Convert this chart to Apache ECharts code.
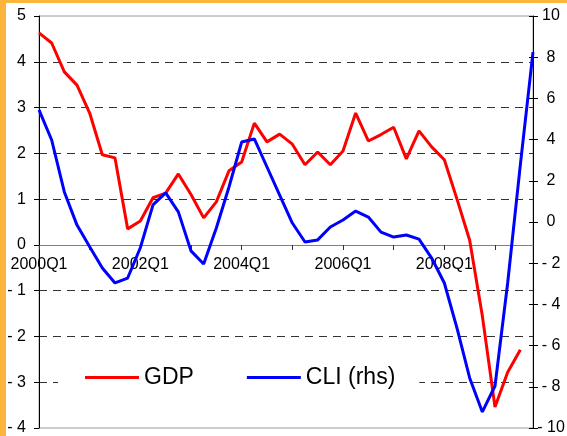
<!DOCTYPE html>
<html>
<head>
<meta charset="utf-8">
<script src="https://cdn.jsdelivr.net/npm/echarts@6/dist/echarts.min.js"></script>
<style>
  html, body { margin: 0; padding: 0; background: #fff; }
  #chart { width: 567px; height: 436px; }
</style>
</head>
<body>
<div id="chart"></div>
<script>
var categories = [
  '2000Q1','2000Q2','2000Q3','2000Q4',
  '2001Q1','2001Q2','2001Q3','2001Q4',
  '2002Q1','2002Q2','2002Q3','2002Q4',
  '2003Q1','2003Q2','2003Q3','2003Q4',
  '2004Q1','2004Q2','2004Q3','2004Q4',
  '2005Q1','2005Q2','2005Q3','2005Q4',
  '2006Q1','2006Q2','2006Q3','2006Q4',
  '2007Q1','2007Q2','2007Q3','2007Q4',
  '2008Q1','2008Q2','2008Q3','2008Q4',
  '2009Q1','2009Q2','2009Q3','2009Q4'
];
var gdp = [
  4.63, 4.41, 3.78, 3.49, 2.88, 1.97, 1.90, 0.35,
  0.52, 1.03, 1.13, 1.55, 1.10, 0.59, 0.94, 1.62,
  1.81, 2.66, 2.25, 2.42, 2.20, 1.75, 2.03, 1.75,
  2.05, 2.88, 2.27, 2.41, 2.57, 1.88, 2.49, 2.14,
  1.86, 1.00, 0.10, -1.55, -3.54, -2.78, -2.29, null
];
var cli = [
  5.44, 3.98, 1.46, -0.15, -1.20, -2.23, -2.96, -2.72,
  -1.25, 0.83, 1.41, 0.49, -1.40, -2.04, -0.29, 1.70,
  3.88, 4.03, 2.67, 1.31, -0.05, -0.97, -0.87, -0.24,
  0.10, 0.53, 0.24, -0.49, -0.73, -0.63, -0.83, -1.75,
  -2.96, -5.15, -7.57, -9.22, -7.96, -2.96, 2.77, 8.25
];
var seriesNames = ['GDP', 'CLI (rhs)'];

function fmt(v) { return v < 0 ? '- ' + Math.abs(v) : String(v); }

var chart = echarts.init(document.getElementById('chart'), null, { renderer: 'canvas' });
var font = 'Liberation Sans';
chart.setOption({
  animation: false,
  backgroundColor: '#fff',
  textStyle: { fontFamily: font },
  grid: { left: 39, right: 34, top: 16, bottom: 8, containLabel: false, outerBoundsMode: 'none', show: true, borderColor: '#9a9a9a', borderWidth: 1, backgroundColor: 'transparent' },
  graphic: [
    { type: 'rect', shape: { x: 0, y: 0, width: 6, height: 436 }, style: { fill: '#FBB53A' }, z: 100 },
    { type: 'rect', shape: { x: 0, y: 0, width: 567, height: 3 }, style: { fill: '#FBB53A' }, z: 100 }
  ],
  legend: {
    data: seriesNames,
    left: 58, top: 358,
    padding: [8, 24, 8, 27],
    backgroundColor: '#fff',
    icon: 'rect', itemWidth: 54, itemHeight: 3, itemGap: 53,
    selectedMode: false,
    textStyle: { fontSize: 23, color: '#000', fontFamily: font },
    z: 10
  },
  xAxis: {
    type: 'category', data: categories, boundaryGap: false,
    position: 'bottom', offset: -183,
    axisLine: { onZero: false, lineStyle: { color: '#808080', width: 1 } },
    axisTick: { interval: 3, length: 5, lineStyle: { color: '#333' } },
    axisLabel: { interval: 7, color: '#000', fontSize: 16, margin: 12, fontFamily: font },
    splitLine: { show: false }
  },
  yAxis: [
    {
      type: 'value', position: 'left', min: -4, max: 5, interval: 1,
      axisLine: { show: true, lineStyle: { color: '#000' } },
      axisTick: { show: true, length: 5, lineStyle: { color: '#000' } },
      axisLabel: { color: '#000', fontSize: 16, margin: 13, formatter: fmt, fontFamily: font },
      splitLine: { show: true, showMinLine: false, showMaxLine: false, lineStyle: { color: '#333', type: [8, 6], width: 1 } }
    },
    {
      type: 'value', position: 'right', min: -10, max: 10, interval: 2,
      axisLine: { show: true, lineStyle: { color: '#000' } },
      axisTick: { show: true, length: 5, lineStyle: { color: '#000' } },
      axisLabel: { color: '#000', fontSize: 16, margin: 18, align: 'center', formatter: fmt, fontFamily: font },
      splitLine: { show: false }
    },
    {
      type: 'value', position: 'right', min: -10, max: 10, interval: 2,
      axisLine: { show: false },
      axisTick: { show: true, inside: true, length: 4, lineStyle: { color: '#000' } },
      axisLabel: { show: false },
      splitLine: { show: false }
    }
  ],
  series: [
    { name: seriesNames[0], type: 'line', yAxisIndex: 0, data: gdp, showSymbol: false, symbol: 'none', color: '#FF0000', lineStyle: { width: 3, color: '#FF0000' } },
    { name: seriesNames[1], type: 'line', yAxisIndex: 1, data: cli, showSymbol: false, symbol: 'none', color: '#0000FF', lineStyle: { width: 3, color: '#0000FF' } }
  ]
});
</script>
</body>
</html>
